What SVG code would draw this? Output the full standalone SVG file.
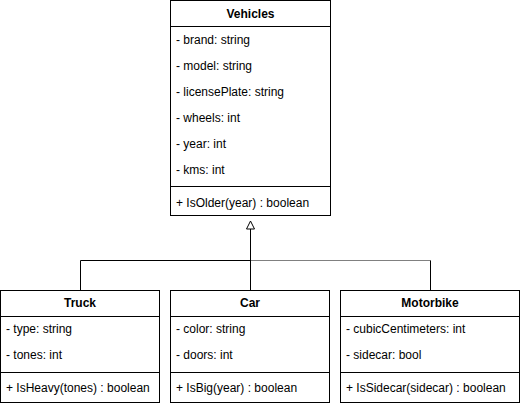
<svg xmlns="http://www.w3.org/2000/svg" width="521" height="406" viewBox="0 0 521 406">
<style>
.box{fill:#fff;stroke:#000;stroke-width:1}
.ln{stroke:#000;stroke-width:1;fill:none}
.t{font-family:"Liberation Sans",Arial,sans-serif;font-size:12px;fill:#000;dominant-baseline:central}
.h{font-weight:bold;text-anchor:middle}
</style>
<rect width="521" height="406" fill="#fff"/>
<g id="connectors">
<path class="ln" d="M80.5 290V260.5H250.5"/>
<path d="M250.5 260.5H430.5" stroke="#808080" stroke-width="1" fill="none"/>
<path class="ln" d="M430.5 290V260.5"/>
<path class="ln" d="M250.5 290V229"/>
<path d="M250.5 221L254.5 229H246.5Z" fill="#fff" stroke="#000" stroke-width="1"/>
</g>
<g id="Vehicles">
<rect class="box" x="170.5" y="0.5" width="160" height="215"/>
<line class="ln" x1="170.5" y1="26.5" x2="330.5" y2="26.5"/>
<line class="ln" x1="170.5" y1="186.5" x2="330.5" y2="186.5"/>
<text class="t h" x="250.5" y="14">Vehicles</text>
<text class="t" x="176" y="40">- brand: string</text>
<text class="t" x="176" y="66">- model: string</text>
<text class="t" x="176" y="92">- licensePlate: string</text>
<text class="t" x="176" y="118">- wheels: int</text>
<text class="t" x="176" y="144">- year: int</text>
<text class="t" x="176" y="170">- kms: int</text>
<text class="t" x="176" y="203">+ IsOlder(year) : boolean</text>
</g>
<g id="Truck">
<rect class="box" x="0.5" y="290.5" width="159" height="112"/>
<line class="ln" x1="0.5" y1="316.5" x2="159.5" y2="316.5"/>
<line class="ln" x1="0.5" y1="372.5" x2="159.5" y2="372.5"/>
<text class="t h" x="80" y="303">Truck</text>
<text class="t" x="6" y="329">- type: string</text>
<text class="t" x="6" y="355">- tones: int</text>
<text class="t" x="6" y="388">+ IsHeavy(tones) : boolean</text>
</g>
<g id="Car">
<rect class="box" x="170.5" y="290.5" width="159" height="112"/>
<line class="ln" x1="170.5" y1="316.5" x2="329.5" y2="316.5"/>
<line class="ln" x1="170.5" y1="372.5" x2="329.5" y2="372.5"/>
<text class="t h" x="250" y="303">Car</text>
<text class="t" x="176" y="329">- color: string</text>
<text class="t" x="176" y="355">- doors: int</text>
<text class="t" x="176" y="388">+ IsBig(year) : boolean</text>
</g>
<g id="Motorbike">
<rect class="box" x="340.5" y="290.5" width="179" height="112"/>
<line class="ln" x1="340.5" y1="316.5" x2="519.5" y2="316.5"/>
<line class="ln" x1="340.5" y1="372.5" x2="519.5" y2="372.5"/>
<text class="t h" x="430" y="303">Motorbike</text>
<text class="t" x="346" y="329">- cubicCentimeters: int</text>
<text class="t" x="346" y="355">- sidecar: bool</text>
<text class="t" x="346" y="388">+ IsSidecar(sidecar) : boolean</text>
</g>
</svg>
